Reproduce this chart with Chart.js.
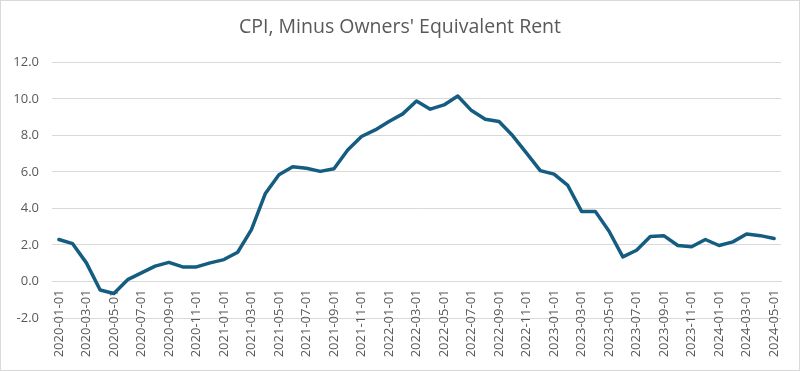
<!DOCTYPE html>
<html>
<head>
<meta charset="utf-8">
<script src="https://cdn.jsdelivr.net/npm/chart.js@4.4.1/dist/chart.umd.min.js"></script>
<style>
html,body{margin:0;padding:0;background:#fff;}
#wrap{width:800px;height:371px;position:relative;}
</style>
</head>
<body>
<div id="wrap"><canvas id="c" width="800" height="371"></canvas></div>
<script>
const categories = [
"2020-01-01","2020-02-01","2020-03-01","2020-04-01","2020-05-01","2020-06-01","2020-07-01","2020-08-01","2020-09-01","2020-10-01","2020-11-01","2020-12-01",
"2021-01-01","2021-02-01","2021-03-01","2021-04-01","2021-05-01","2021-06-01","2021-07-01","2021-08-01","2021-09-01","2021-10-01","2021-11-01","2021-12-01",
"2022-01-01","2022-02-01","2022-03-01","2022-04-01","2022-05-01","2022-06-01","2022-07-01","2022-08-01","2022-09-01","2022-10-01","2022-11-01","2022-12-01",
"2023-01-01","2023-02-01","2023-03-01","2023-04-01","2023-05-01","2023-06-01","2023-07-01","2023-08-01","2023-09-01","2023-10-01","2023-11-01","2023-12-01",
"2024-01-01","2024-02-01","2024-03-01","2024-04-01","2024-05-01"
];
const cpiLessOER = [
2.30,2.07,1.02,-0.47,-0.66,0.10,0.47,0.84,1.05,0.80,0.80,1.02,
1.20,1.60,2.84,4.80,5.85,6.28,6.20,6.03,6.17,7.20,7.94,8.30,
8.76,9.18,9.89,9.44,9.67,10.16,9.36,8.89,8.76,7.98,7.03,6.07,
5.88,5.26,3.84,3.84,2.75,1.35,1.71,2.46,2.50,1.97,1.90,2.30,
1.97,2.17,2.60,2.51,2.35
];
const yTicks = [-2,0,2,4,6,8,10,12];
const titleText = "CPI, Minus Owners' Equivalent Rent";
const FONT = '"Open Sans", "Noto Sans", sans-serif';

const frame = {
  id:'frame',
  beforeDraw(chart){
    const ctx = chart.ctx;
    ctx.save();
    ctx.fillStyle = '#ffffff';
    ctx.fillRect(0,0,chart.width,chart.height);
    ctx.strokeStyle = '#d9d9d9';
    ctx.lineWidth = 1;
    ctx.strokeRect(0.5,0.5,chart.width-1,chart.height-1);
    ctx.restore();
  }
};

new Chart(document.getElementById('c'), {
  type:'line',
  data:{
    labels:categories,
    datasets:[{
      label:titleText,
      data:cpiLessOER,
      borderColor:'#155d80',
      borderWidth:3.5,
      pointRadius:0,
      tension:0,
      borderJoinStyle:'round',
      borderCapStyle:'round',
      fill:false,
      yAxisID:'y'
    }]
  },
  options:{
    responsive:false,
    animation:false,
    devicePixelRatio:1,
    layout:{padding:{left:0,right:0,top:0,bottom:53}},
    plugins:{
      legend:{display:false},
      tooltip:{enabled:false},
      title:{
        display:true,
        text:titleText,
        color:'#595959',
        font:{family:FONT,size:19.5,weight:'normal',lineHeight:1.2},
        padding:{top:16,bottom:23}
      }
    },
    scales:{
      x:{
        position:{y:0},
        offset:true,
        grid:{display:false},
        border:{display:true,color:'#d9d9d9',width:1},
        ticks:{
          autoSkip:false,
          maxRotation:90,
          minRotation:90,
          padding:0,
          color:'#595959',
          font:{family:FONT,size:13},
          callback:function(v,i){return i%2===0?categories[i]:'';}
        }
      },
      y:{
        position:'left',
        min:-2,max:12,
        afterBuildTicks:function(s){s.ticks = yTicks.map(v=>({value:v}));},
        afterFit:function(s){s.width=52;},
        grid:{color:'#d9d9d9',lineWidth:1,drawTicks:false},
        border:{display:false},
        ticks:{
          padding:13,
          color:'#595959',
          font:{family:FONT,size:13},
          callback:function(v){return Number(v).toFixed(1);}
        }
      },
      ySpacer:{
        position:'right',
        min:-2,max:12,
        grid:{display:false,drawTicks:false},
        border:{display:false},
        ticks:{display:false},
        afterFit:function(s){s.width=19;}
      }
    }
  },
  plugins:[frame]
});
</script>
</body>
</html>
